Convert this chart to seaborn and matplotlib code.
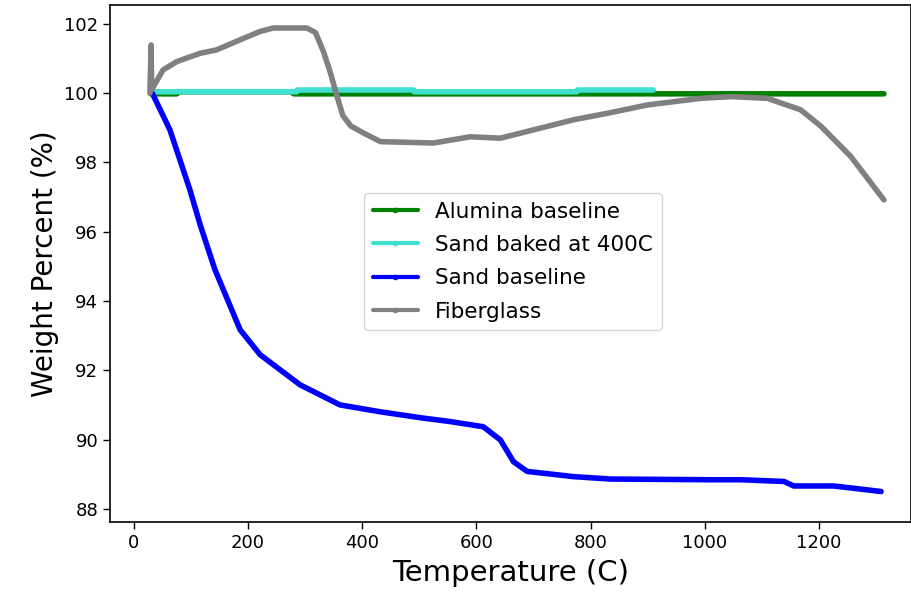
import pandas as pd
import numpy as np
import matplotlib
matplotlib.use("Agg")
import matplotlib.pyplot as plt
import seaborn as sns

sns.set_style("ticks")
plt.rcParams['font.family'] = ['DejaVu Sans']
plt.rcParams['text.color'] = 'black'
plt.rcParams['axes.labelcolor'] = 'black'

# Data
alumina_temp = [30, 50, 75, 80, 150, 275, 280, 400, 600, 800, 1000, 1200, 1314]
alumina_wt = [99.98, 99.98, 99.98, 100.04, 100.04, 100.04, 99.98, 99.98, 99.98, 99.98, 99.98, 99.98, 99.98]

sand400_temp = [30, 100, 200, 285, 286, 400, 490, 491, 650, 776, 777, 850, 910]
sand400_wt = [100.04, 100.04, 100.04, 100.04, 100.09, 100.09, 100.09, 100.04, 100.04, 100.04, 100.09, 100.09, 100.09]

sand_temp = [32, 63, 98, 116, 142, 186, 221, 291, 361, 432, 502, 554, 612, 642, 665,
             689, 770, 835, 1010, 1063, 1139, 1156, 1226, 1268, 1309]
sand_wt = [100.0, 98.94, 97.21, 96.2, 94.9, 93.17, 92.45, 91.58, 91.0, 90.8, 90.63, 90.52,
           90.37, 89.99, 89.36, 89.08, 88.93, 88.86, 88.84, 88.84, 88.79, 88.66, 88.66, 88.58, 88.5]

fiber_temp = [28, 30, 31, 51, 75, 116, 145, 186, 221, 244, 303, 318, 332, 344, 356, 366, 380,
              402, 432, 525, 589, 642, 700, 770, 830, 900, 993, 1046, 1110, 1168, 1204, 1256, 1314]
fiber_wt = [100.0, 101.39, 100.1, 100.67, 100.91, 101.15, 101.25, 101.54, 101.78, 101.88,
            101.88, 101.75, 101.2, 100.6, 99.9, 99.35, 99.05, 98.85, 98.6, 98.56, 98.74,
            98.7, 98.94, 99.23, 99.42, 99.66, 99.85, 99.9, 99.85, 99.52, 99.04, 98.17, 96.92]

names = ['Alumina baseline', 'Sand baked at 400C', 'Sand baseline', 'Fiberglass']
colors = ['green', 'turquoise', 'blue', 'gray']

frames = []
for name, t, w in zip(names, [alumina_temp, sand400_temp, sand_temp, fiber_temp],
                      [alumina_wt, sand400_wt, sand_wt, fiber_wt]):
    frames.append(pd.DataFrame({'Temperature': t, 'Weight': w, 'Sample': name}))
df = pd.concat(frames, ignore_index=True)

fig = plt.figure(figsize=(9.12, 6), dpi=100)
ax = fig.add_axes([0.1206, 0.13, 0.878, 0.862])

sns.lineplot(data=df, x='Temperature', y='Weight', hue='Sample', hue_order=names,
             palette=dict(zip(names, colors)), estimator=None, sort=False,
             marker='.', markersize=4, markeredgewidth=0, linewidth=4, ax=ax)

ax.set_xlim(-42, 1361)
ax.set_ylim(87.62, 102.55)
ax.set_xticks([0, 200, 400, 600, 800, 1000, 1200])
ax.set_yticks([88, 90, 92, 94, 96, 98, 100, 102])
ax.tick_params(labelsize=13, length=5, width=1, colors='black')
for s in ax.spines.values():
    s.set_color('black')
    s.set_linewidth(1.2)

ax.set_xlabel('Temperature (C)', fontsize=21, labelpad=5)
ax.set_ylabel('Weight Percent (%)', fontsize=20)

leg = ax.legend(loc='upper left', bbox_to_anchor=(0.3175, 0.636), borderaxespad=0,
                fontsize=15.5, frameon=True, handlelength=2.1, labelspacing=0.62)
for line in leg.get_lines():
    line.set_linewidth(3)
    line.set_markersize(8)
for txt in leg.get_texts():
    txt.set_color('black')

fig.savefig('out.png', dpi=100)
